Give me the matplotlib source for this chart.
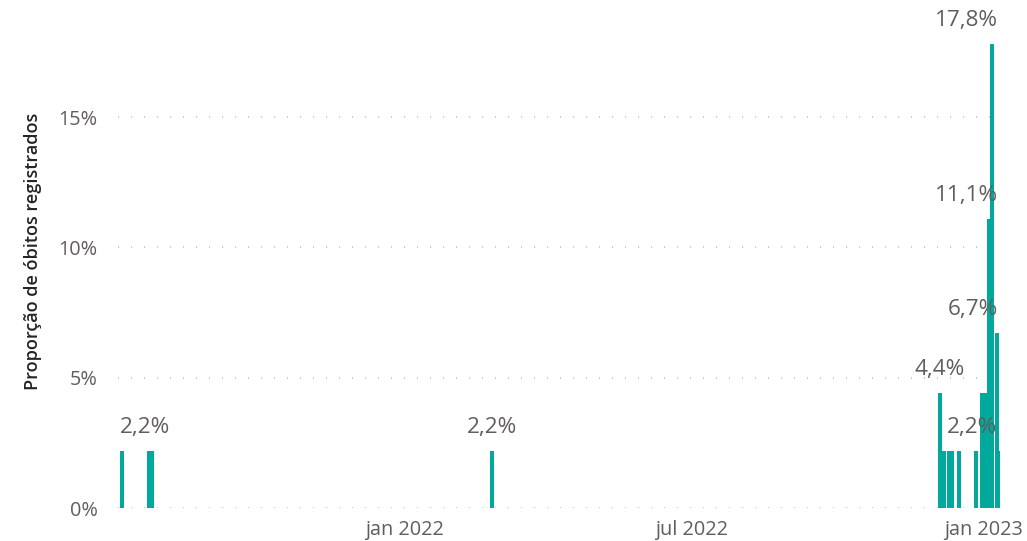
import matplotlib
matplotlib.use("Agg")
import matplotlib.pyplot as plt
import matplotlib.dates as mdates
import numpy as np
import datetime as dt

# ---- data ----
dates = ["2021-07-07", "2021-07-24", "2021-07-26", "2022-02-25",
         "2022-12-04", "2022-12-07", "2022-12-10", "2022-12-12", "2022-12-16",
         "2022-12-27", "2022-12-31", "2023-01-02", "2023-01-04", "2023-01-06",
         "2023-01-09", "2023-01-10"]
values = [2.2, 2.2, 2.2, 2.2,
          4.4, 2.2, 2.2, 2.2, 2.2,
          2.2, 4.4, 4.4, 11.1, 17.8,
          6.7, 2.2]
# data labels shown: (bar index)
labelled = [1, 3, 4, 9, 14, 12, 13]

y_ticks = [0, 5, 10, 15]
x_ticks = ["2022-01-01", "2022-07-01", "2023-01-01"]
x_tick_labels = ["jan 2022", "jul 2022", "jan 2023"]
y_title = "Proporção de óbitos registrados"

# ---- style ----
BAR = "#01A99D"
GRAY = "#605E5C"
plt.rcParams['font.family'] = ['Open Sans', 'DejaVu Sans']

fig = plt.figure(figsize=(10.27, 5.41), dpi=100)
ax = fig.add_axes([118/1027, 33/541, (1001-118)/1027, 508/541])

d = [dt.datetime.strptime(s, "%Y-%m-%d") for s in dates]
xn = mdates.date2num(d)
ax.bar(xn, values, width=2.5, color=BAR, zorder=3, linewidth=0)

ref = mdates.date2num(dt.datetime(2023, 1, 1))
ax.set_xlim(ref - 545.7, ref + 10.7)
ax.set_ylim(0, 19.5)

ax.set_yticks(y_ticks)
ax.set_yticklabels([f"{t}%" for t in y_ticks])
ax.set_xticks(mdates.date2num([dt.datetime.strptime(s, "%Y-%m-%d") for s in x_ticks]))
ax.set_xticklabels(x_tick_labels)
ax.tick_params(axis='both', length=0, colors=GRAY, labelsize=14.3)
ax.tick_params(axis='y', pad=14.5)
ax.tick_params(axis='x', pad=9)
for s in ax.spines.values():
    s.set_visible(False)
for t in y_ticks:
    ax.axhline(t, color="#C8C8C8", linewidth=1.3, linestyle=(0, (0.6, 6.6)), zorder=1)

ax.set_ylabel(y_title, fontsize=13, fontweight=600, color="#252423", va="center")
ax.yaxis.set_label_coords((33 - 118) / 883, (508 - 251) / 508)

def fmt(v):
    return f"{v:.1f}%".replace(".", ",")

for i in labelled:
    v = values[i]
    x = xn[i]
    px_x = (x - ref) * 1.587 + 984
    if px_x > 985:
        # shifted to stay inside the chart, right aligned
        ax.annotate(fmt(v), xy=(ref + (998 - 984) / 1.587, v), xytext=(0, 17),
                    textcoords="offset points", ha="right", va="center",
                    fontsize=16.2, color=GRAY, zorder=4)
    else:
        ax.annotate(fmt(v), xy=(x, v), xytext=(-3 if i in (1, 9) else 0, 17),
                    textcoords="offset points", ha="center", va="center",
                    fontsize=16.2, color=GRAY, zorder=4)

ax.set_facecolor("white")
fig.savefig("out.png", dpi=100, facecolor="white")
